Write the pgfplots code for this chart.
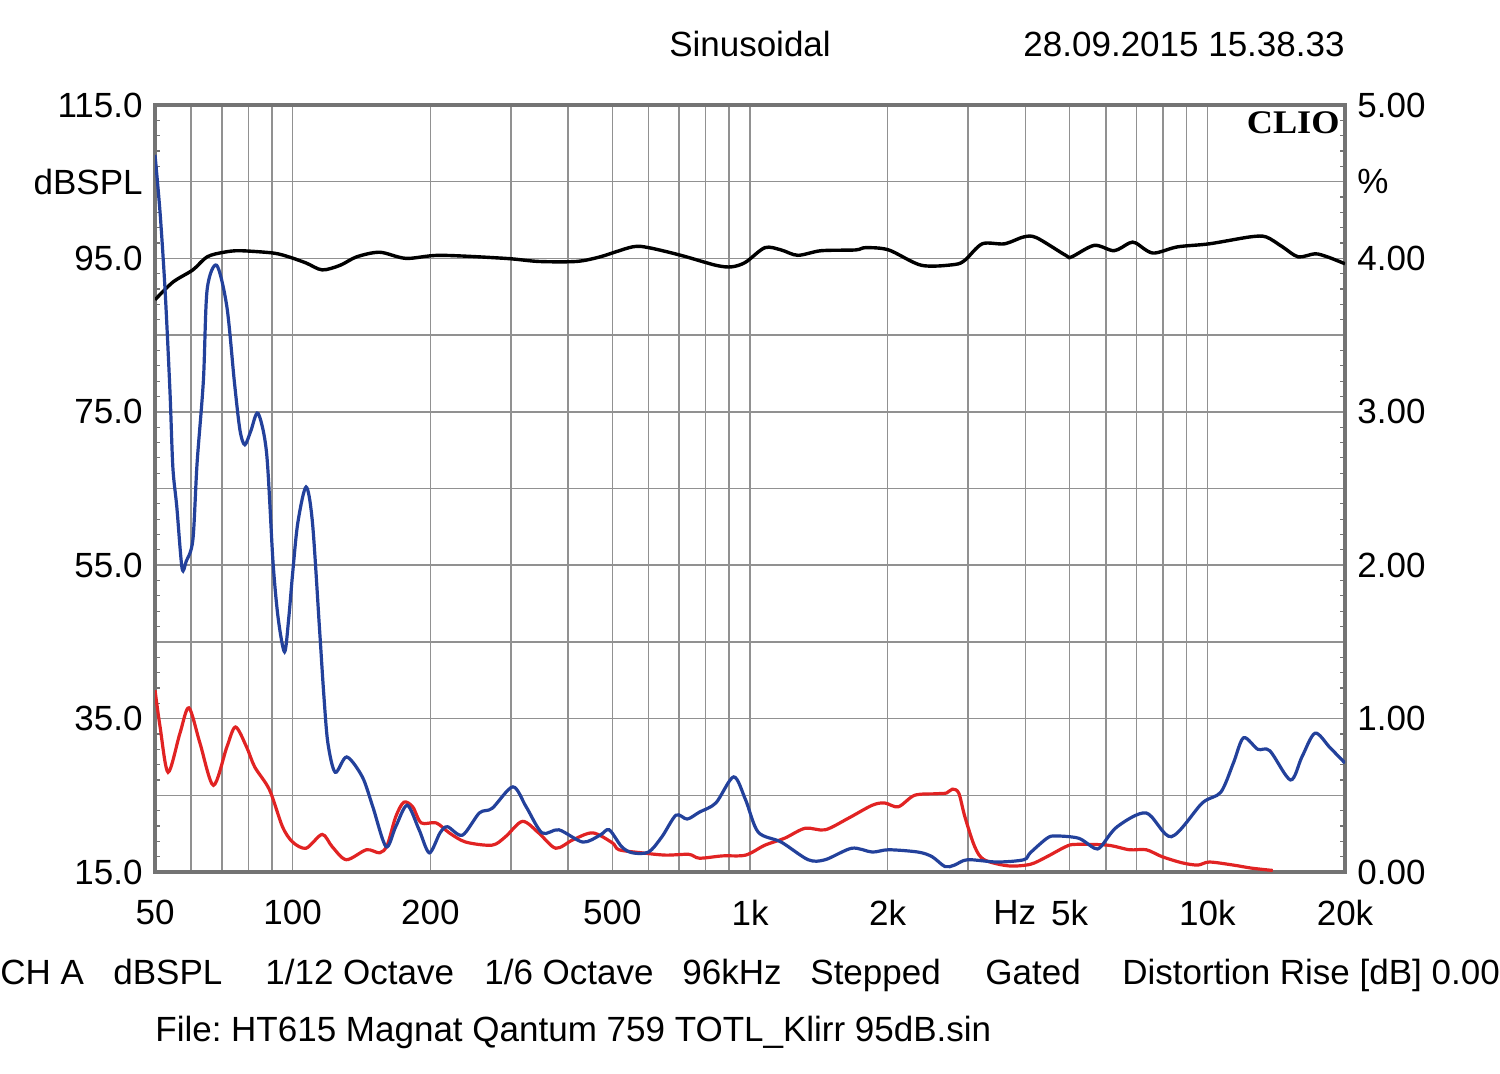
\documentclass[border=0pt]{standalone}
\usepackage{pgfplots}
\pgfplotsset{compat=1.18}
\usepackage{fontspec}
\setmainfont{Liberation Sans}
\newfontfamily\cliofont{Liberation Serif}
\definecolor{cblue}{RGB}{35,65,155}
\definecolor{cred}{RGB}{225,35,35}
\definecolor{gridgray}{RGB}{145,145,145}
\definecolor{framegray}{RGB}{115,115,115}
\newcommand{\lbl}{\fontsize{17.5}{21}\selectfont}
\begin{document}
\frenchspacing
\begin{tikzpicture}
\useasboundingbox (-77.5pt,-101pt) rectangle (672.5pt,436pt);
\begin{axis}[at={(0,0)}, anchor=south west, scale only axis,
  width=595pt, height=383.5pt,
  xmode=log, xmin=50, xmax=20000, ymin=15, ymax=115,
  xtick={50,60,70,80,90,100,200,300,400,500,600,700,800,900,1000,2000,3000,4000,5000,6000,7000,8000,9000,10000,20000},
  xticklabels={50,,,,,100,200,,,500,,,,,1k,2k,,,5k,,,,,10k,20k},
  extra x ticks={3790}, extra x tick labels={Hz},
  extra x tick style={grid=none, major tick length=0pt},
  xminorticks=false,
  ytick={15,25,...,115},
  yticklabels={15.0,,35.0,,55.0,,75.0,,95.0,dBSPL,115.0},
  minor y tick num=4,
  tick align=inside,
  major tick length=0pt, minor tick length=2.5pt,
  minor tick style={framegray, line width=0.6pt},
  grid=major,
  major grid style={gridgray, line width=0.75pt},
  axis line style={framegray, line width=1.6pt},
  tick label style={font=\lbl, inner sep=0pt},
  yticklabel style={anchor=east, xshift=-6pt},
  xticklabel style={anchor=north, yshift=-14pt},
  clip=true,
]
\addplot[black, line width=1.7pt, smooth] coordinates {
(50,89.6)(54.7,91.9)(60.5,93.5)(65,95.2)(70.7,95.8)(76.7,96.0)(90.6,95.7)(98,95.2)(107,94.4)(116,93.5)(127,94.1)(138,95.2)(155,95.8)(177,95.0)(210,95.4)(292,95.0)(345,94.6)(417,94.6)(470,95.2)(553,96.5)(600,96.4)(706,95.4)(842,94.1)(912,93.9)(978,94.5)(1078,96.4)(1170,96.1)(1272,95.4)(1430,96.0)(1700,96.1)(1790,96.4)(2010,96.1)(2370,94.1)(2800,94.2)(2955,94.8)(3220,96.9)(3600,96.9)(3970,97.8)(4230,97.7)(4900,95.4)(5050,95.2)(5660,96.7)(6250,96.0)(6750,97.0)(6980,97.0)(7600,95.7)(8600,96.5)(10100,96.9)(12400,97.8)(13440,97.8)(14600,96.5)(15800,95.2)(17200,95.6)(18300,95.2)(20000,94.3)
};
\addplot[cred, line width=1.6pt, smooth] coordinates {
(50,38.7)(51.3,33.9)(53.4,28.0)(56.7,33.1)(59.3,36.4)(62.7,31.8)(67.1,26.3)(71.8,31.3)(75,33.9)(79.3,31.3)(82.6,28.7)(89,25.7)(95,20.9)(100,18.9)(107,18.1)(116,19.9)(122,18.3)(131,16.6)(145,17.9)(155,17.5)(161,18.5)(168,22.2)(175,24.1)(183,23.5)(191,21.4)(206,21.4)(220,20.1)(239,18.9)(273,18.5)(292,19.6)(318,21.6)(345,20.1)(376,18.1)(410,19.2)(453,20.1)(500,18.8)(517,17.9)(580,17.5)(654,17.2)(735,17.3)(775,16.8)(871,17.1)(978,17.2)(1078,18.5)(1190,19.4)(1320,20.7)(1460,20.5)(1640,22.0)(1850,23.7)(1970,24.0)(2110,23.5)(2290,25.0)(2550,25.2)(2690,25.3)(2770,25.8)(2860,25.3)(2950,22.2)(3100,18.3)(3250,16.6)(3670,15.8)(4100,16.0)(4460,17.0)(4900,18.3)(5150,18.6)(6050,18.5)(6750,17.9)(7350,17.9)(7960,17.0)(8800,16.2)(9530,15.9)(10100,16.3)(11400,15.9)(12500,15.5)(13900,15.2)
};
\addplot[cblue, line width=1.6pt, smooth] coordinates {
(50,108.5)(51.3,100.9)(52.6,90.9)(53.9,77.8)(54.7,67.8)(55.8,62.6)(57.3,54.6)(58.5,55.5)(60.5,58.3)(61.8,68.3)(63.8,79.1)(65,90.9)(68.2,94.1)(71.8,88.7)(74.6,78.8)(76.7,72.6)(78.6,70.7)(81,72.5)(84,74.8)(87.7,69.6)(90.6,55.3)(93,48)(96,43.7)(98,48)(100,54)(102.6,60.5)(107,65.2)(110.5,60.5)(114.5,46.6)(117,38)(119.4,31.8)(123.9,28.0)(131.3,30.0)(142,27.4)(149.7,23.5)(160,18.3)(168,20.9)(178,23.7)(189,20.5)(199,17.5)(210,20.1)(218,20.9)(235,19.8)(256,22.7)(273,23.3)(303,26.1)(324,23.5)(351,20.1)(382,20.5)(431,18.9)(470,19.8)(492,20.5)(524,18.3)(553,17.5)(600,17.6)(642,19.6)(689,22.4)(729,21.9)(775,22.8)(842,24.0)(921,27.4)(978,24.4)(1042,20.2)(1170,18.9)(1340,16.6)(1460,16.6)(1670,18.1)(1850,17.6)(2010,17.9)(2330,17.6)(2500,17.0)(2670,15.7)(2800,15.9)(2990,16.6)(3470,16.3)(3970,16.6)(4100,17.5)(4460,19.4)(4660,19.7)(5230,19.4)(5660,18.1)(5850,18.3)(6350,20.9)(7350,22.7)(8340,19.6)(9750,24.0)(10700,25.4)(11400,29.2)(12000,32.5)(12890,31.0)(13700,30.8)(15200,27.0)(16100,30.0)(17200,33.1)(18550,31.2)(20000,29.2)
};
\end{axis}
\begin{axis}[at={(0,0)}, anchor=south west, scale only axis,
  width=595pt, height=383.5pt,
  xmode=log, xmin=50, xmax=20000, ymin=0, ymax=5,
  axis x line=none, axis y line*=right,
  y axis line style={draw=none},
  ytick={0,0.5,...,5},
  yticklabels={0.00,,1.00,,2.00,,3.00,,4.00,\%,5.00},
  major tick length=0pt,
  tick label style={font=\lbl, inner sep=0pt},
  yticklabel style={anchor=west, xshift=6pt},
]
\addplot[draw=none] coordinates {(50,0)(20000,5)};
\end{axis}
\node[anchor=east, inner sep=0pt] at (592.5pt,374.5pt) {\fontsize{16.5}{20}\selectfont\cliofont\bfseries\scalebox{1.1}[1]{CLIO}};
\begin{scope}[every node/.style={inner sep=0pt, font=\lbl}]
\node[anchor=base] at (297.5pt,407.5pt) {Sinusoidal};
\node[anchor=base east] at (595pt,407.5pt) {28.09.2015 15.38.33};
\node[anchor=base west] at (-77.5pt,-56.25pt) {CH A};
\node[anchor=base west] at (-21pt,-56.25pt) {dBSPL};
\node[anchor=base west] at (55pt,-56.25pt) {1/12 Octave};
\node[anchor=base west] at (164.5pt,-56.25pt) {1/6 Octave};
\node[anchor=base west] at (263.5pt,-56.25pt) {96kHz};
\node[anchor=base west] at (327.5pt,-56.25pt) {Stepped};
\node[anchor=base west] at (415pt,-56.25pt) {Gated};
\node[anchor=base west] at (483.5pt,-56.25pt) {Distortion Rise [dB] 0.00};
\node[anchor=base west] at (0pt,-85pt) {File: HT615 Magnat Qantum 759 TOTL\_Klirr 95dB.sin};
\end{scope}
\end{tikzpicture}
\end{document}
